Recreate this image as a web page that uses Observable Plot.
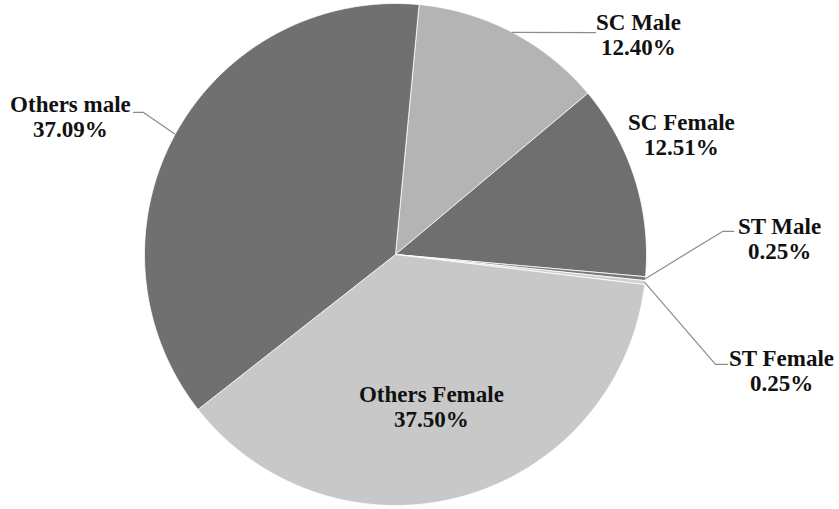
<!DOCTYPE html>
<html>
<head>
<meta charset="utf-8">
<script src="https://cdn.jsdelivr.net/npm/d3@7"></script>
<script src="https://cdn.jsdelivr.net/npm/@observablehq/plot@0.6"></script>
<style>
  body { margin: 0; background: #fff; }
  #chart svg { display: block; }
  #chart svg text { font-family: "Liberation Serif", "Times New Roman", "DejaVu Serif", serif; font-weight: bold; }
</style>
</head>
<body>
<div id="chart"></div>
<script>
// Share of population by social group and sex (percent)
const categories = ["SC Male", "SC Female", "ST Male", "ST Female", "Others Female", "Others male"];
const shares = [12.40, 12.51, 0.25, 0.25, 37.50, 37.09];
const shareLabels = ["12.40%", "12.51%", "0.25%", "0.25%", "37.50%", "37.09%"];

// Slice fills, in category order
const sliceColors = ["#b4b4b4", "#6f6f6f", "#7a7a7a", "#d0d0d0", "#c8c8c8", "#707070"];

// Label placement in pie units (radius = 1, centre = 0,0), and leader-line bends
const labelAt = {
  "SC Male":       [0.968, 0.876],
  "SC Female":     [1.139, 0.478],
  "ST Male":       [1.530, 0.064],
  "ST Female":     [1.538, -0.462],
  "Others Female": [0.143, -0.606],
  "Others male":   [-1.295, 0.550]
};
const leaderBends = {
  "SC Male":     [[0.797, 0.884]],
  "ST Male":     [[1.303, 0.092], [1.347, 0.092]],
  "ST Female":   [[1.275, -0.438], [1.323, -0.438]],
  "Others male": [[-1.004, 0.566], [-1.044, 0.566]]
};

const startAngle = 5.4 * Math.PI / 180;
const arcs = d3.pie().sort(null)
  .startAngle(startAngle)
  .endAngle(startAngle + 2 * Math.PI)(shares);

// Slice outlines as closed polygons: centre -> arc -> centre
const vertices = [];
arcs.forEach((a, i) => {
  const name = categories[i];
  vertices.push({name, x: 0, y: 0});
  const n = Math.max(2, Math.ceil((a.endAngle - a.startAngle) / (Math.PI / 360)));
  for (let k = 0; k <= n; k++) {
    const t = a.startAngle + (a.endAngle - a.startAngle) * k / n;
    vertices.push({name, x: Math.sin(t), y: Math.cos(t)});
  }
  vertices.push({name, x: 0, y: 0});
});

// Leader lines start on the rim at each slice's mid-angle
const leaders = [];
arcs.forEach((a, i) => {
  const name = categories[i];
  const bends = leaderBends[name];
  if (!bends) return;
  const mid = (a.startAngle + a.endAngle) / 2;
  leaders.push({name, x: Math.sin(mid), y: Math.cos(mid)});
  bends.forEach(([x, y]) => leaders.push({name, x, y}));
});

const labels = categories.map((name, i) => ({
  name,
  text: name + "\n" + shareLabels[i],
  x: labelAt[name][0],
  y: labelAt[name][1]
}));

const chart = Plot.plot({
  width: 839,
  height: 509,
  marginLeft: 144,
  marginRight: 193,
  marginTop: 3,
  marginBottom: 4,
  x: {domain: [-1, 1], axis: null},
  y: {domain: [-1, 1], axis: null},
  color: {type: "ordinal", domain: categories, range: sliceColors},
  marks: [
    Plot.line(vertices, {x: "x", y: "y", z: "name", fill: "name", stroke: "white", strokeWidth: 0.8, strokeLinejoin: "round"}),
    Plot.line(leaders, {x: "x", y: "y", z: "name", stroke: "#8c8c8c", strokeWidth: 1.2}),
    Plot.text(labels, {
      x: "x", y: "y", text: "text",
      fontFamily: "Liberation Serif",
      fontWeight: "bold",
      fontSize: 23,
      lineHeight: 1.07,
      fill: "#111"
    })
  ]
});

document.getElementById("chart").append(chart);
</script>
</body>
</html>
